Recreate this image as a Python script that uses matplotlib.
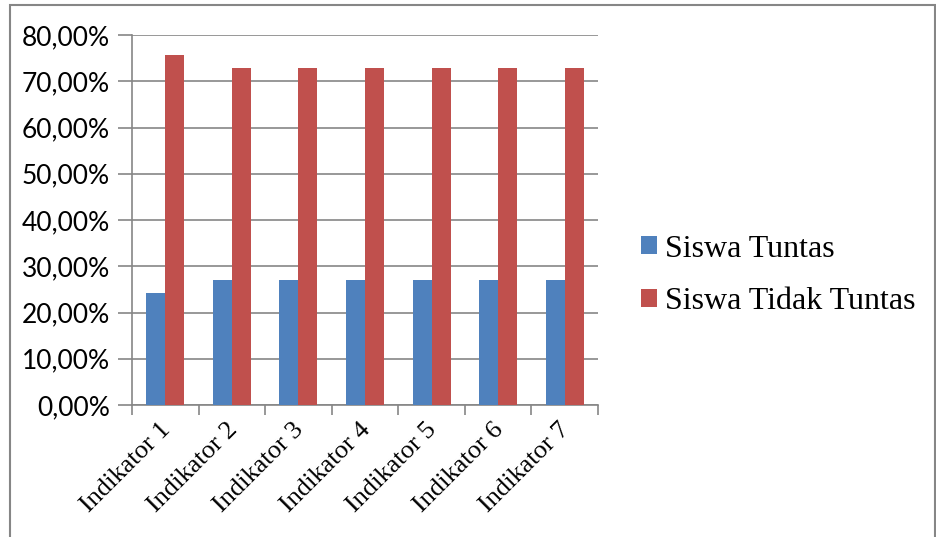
import numpy as np
import matplotlib
matplotlib.use('Agg')
import matplotlib.pyplot as plt
import matplotlib.transforms as mtransforms
from matplotlib.patches import Rectangle
from matplotlib.ticker import FuncFormatter, MultipleLocator

categories = ['Indikator 1', 'Indikator 2', 'Indikator 3', 'Indikator 4',
              'Indikator 5', 'Indikator 6', 'Indikator 7']
tuntas = [24.32, 27.03, 27.03, 27.03, 27.03, 27.03, 27.03]
tidak_tuntas = [75.68, 72.97, 72.97, 72.97, 72.97, 72.97, 72.97]

blue = '#4f81bd'
red = '#c0504d'
grid_c = '#868686'

fig = plt.figure(figsize=(9.37, 5.37), dpi=100)
ax = fig.add_axes([132 / 937, 1 - 405 / 537, 466 / 937, 370 / 537])

x = np.arange(len(categories))
w = 0.285
ax.bar(x - w / 2, tuntas, w, color=blue, label='Siswa Tuntas', zorder=3)
ax.bar(x + w / 2, tidak_tuntas, w, color=red, label='Siswa Tidak Tuntas', zorder=3)

ax.set_xlim(-0.5, len(categories) - 0.5)
ax.set_ylim(0, 80)
ax.yaxis.set_major_locator(MultipleLocator(10))
ax.yaxis.set_major_formatter(FuncFormatter(lambda v, p: f'{v:.2f}%'.replace('.', ',')))
ax.grid(axis='y', color=grid_c, linewidth=1.2, zorder=0)

for s in ['top', 'right']:
    ax.spines[s].set_visible(False)
for s in ['left', 'bottom']:
    ax.spines[s].set_color(grid_c)
    ax.spines[s].set_linewidth(1.2)

ax.set_xticks(np.arange(-0.5, len(categories), 1))
ax.set_xticklabels([])
ax.set_xticks(x, minor=True)
ax.set_xticklabels(categories, minor=True, rotation=45, ha='right',
                   rotation_mode='anchor', family='Liberation Serif', fontsize=19)
ax.tick_params(axis='x', which='major', length=7, color=grid_c, width=1.2)
ax.tick_params(axis='x', which='minor', length=0, pad=10)
shift = mtransforms.ScaledTranslation(-6 / 100, 0, fig.dpi_scale_trans)
for t in ax.get_xticklabels(minor=True):
    t.set_transform(t.get_transform() + shift)
ax.tick_params(axis='y', length=10, color=grid_c, width=1.2, pad=6,
               labelsize=19)
for t in ax.get_yticklabels():
    t.set_family(['Lato', 'DejaVu Sans'])

ax.legend(loc='center left', bbox_to_anchor=(1.03, 0.35), frameon=False,
          prop={'family': 'Liberation Serif', 'size': 23},
          handlelength=0.5, handleheight=0.5, handletextpad=0.25,
          labelspacing=0.75)

fig.patches.append(Rectangle((10 / 937, -0.05), 925 / 937, 1 - 5 / 537 + 0.05,
                             transform=fig.transFigure, fill=False,
                             edgecolor=grid_c, linewidth=1.5))

fig.savefig('out.png', dpi=100)
